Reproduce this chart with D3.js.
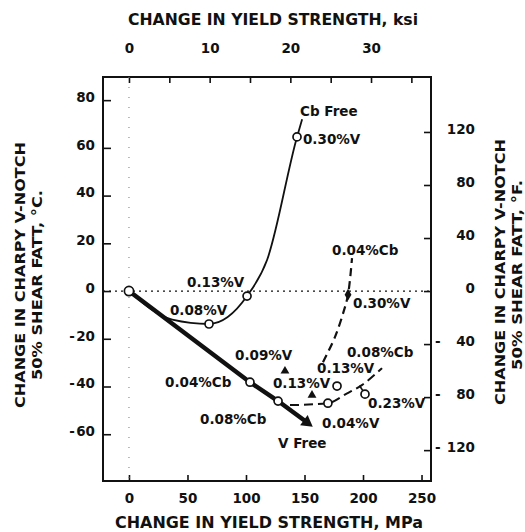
<!DOCTYPE html>
<html>
<head>
<meta charset="utf-8">
<script src="https://cdn.jsdelivr.net/npm/d3@7"></script>
<style>
  body { margin: 0; background: #fff; }
  svg text { font-family: "DejaVu Sans", sans-serif; font-weight: bold; fill: #111; }
</style>
</head>
<body>
<svg id="chart" width="525" height="532"></svg>
<script>
// tick values
const mpaTicks = [0, 50, 100, 150, 200, 250];
const ksiTicks = [0, 5, 10, 15, 20, 25, 30, 35];
const ksiLabels = [0, 10, 20, 30];
const degCTicks = [80, 60, 40, 20, 0, -20, -40, -60];
const degFTicks = [120, 80, 40, 0, -40, -80, -120];

// Cb free (MPa, degC)
const cbFreeCurve = [[0, 0], [37, -12], [68.4, -13.8], [100.9, -2.1], [118, 13], [143.6, 64.6], [148, 72]];
const cbFreePts = [[68.4, -13.8], [100.9, -2.1], [143.6, 64.6]];
// V free
const vFreeLine = [[0, 0], [103.4, -38.2], [127.4, -46.1], [152, -55]];
const vFreePts = [[103.4, -38.2], [127.4, -46.1]];
const vFreeEnd = [152, -55];
// 0.04% Cb + V
const cb04Curve = [[165.8, -29.8], [176, -19.3], [183.8, -8], [187.2, -1.5], [190.6, 13.8]];
const cb04Tri = [[133.3, -33.5], [156.4, -43.6]];
const cb04Diamond = [[187.2, -1.5]];
// 0.08% Cb + V
const cb08Curve = [[137.6, -47.8], [170, -47], [186, -43], [199, -39.4], [216.2, -32.3]];
const cb08Pts = [[170, -47], [177.8, -39.8], [201.7, -43.2]];
const cb08Stub = [[197, -39.6], [201.7, -43.2]];

// annotations: text, MPa, degC (baseline start)
const notes = [
  ["Cb Free", 146.2, 73.4],
  ["0.30%V", 148.7, 61.6],
  ["0.13%V", 49.6, 1.7],
  ["0.08%V", 35, -10.1],
  ["0.09%V", 90.6, -28.9],
  ["0.04%Cb", 30.8, -40.3],
  ["0.08%Cb", 60.7, -55.8],
  ["V Free", 127.4, -65.8],
  ["0.04%V", 165, -57.4],
  ["0.13%V", 123, -40.7],
  ["0.13%V", 160.7, -34.4],
  ["0.08%Cb", 186.3, -27.7],
  ["0.23%V", 204.3, -49.1],
  ["0.04%Cb", 173.5, 15.1],
  ["0.30%V", 191.5, -7.1]
];

const svg = d3.select("#chart");
const L = 103, R = 431, T = 77, B = 481;
const ink = "#111";

const x = d3.scaleLinear().domain([-22.2, 258.1]).range([L, R]);
const y = d3.scaleLinear().domain([-79.6, 89.7]).range([B, T]);
const ksi = d3.scaleLinear().domain(x.domain().map(d => d / 6.8948)).range([L, R]);
const degF = d3.scaleLinear().domain(y.domain().map(d => d * 1.8)).range([B, T]);

const fmtNeg = d => d < 0 ? "-\u200a" + Math.abs(d) : d;

// axes
const gB = svg.append("g").attr("transform", `translate(0,${B})`)
  .call(d3.axisBottom(x).tickValues(mpaTicks).tickSizeInner(-6).tickSizeOuter(0).tickPadding(12));
const gT = svg.append("g").attr("transform", `translate(0,${T})`)
  .call(d3.axisTop(ksi).tickValues(ksiTicks).tickSizeInner(-6).tickSizeOuter(0).tickPadding(24)
    .tickFormat(d => ksiLabels.includes(d) ? d : ""));
const gL = svg.append("g").attr("transform", `translate(${L},0)`)
  .call(d3.axisLeft(y).tickValues(degCTicks).tickSizeInner(-8).tickSizeOuter(0).tickPadding(8).tickFormat(fmtNeg));
const gR = svg.append("g").attr("transform", `translate(${R},0)`)
  .call(d3.axisRight(degF).tickValues(degFTicks).tickSizeInner(-7).tickSizeOuter(0).tickPadding(8)
    .tickFormat(d => Math.abs(d)));

[gB, gT, gL, gR].forEach(g => {
  g.select(".domain").remove();
  g.selectAll("line").attr("stroke", ink).attr("stroke-width", 1.6);
  g.selectAll("text").attr("font-size", 13.5).attr("fill", ink)
    .style("font-family", "'DejaVu Sans', sans-serif").style("font-weight", "bold");
});
gL.selectAll("text").attr("dy", "0.1em");
gR.selectAll("text").attr("text-anchor", "end").attr("x", 44).attr("dy", "0.1em");
gR.selectAll(".tick").filter(d => d < 0).append("text")
  .attr("x", 4).attr("dy", "0.1em").attr("font-size", 13.5).text("-");

// frame
svg.append("rect").attr("x", L).attr("y", T).attr("width", R - L).attr("height", B - T)
  .attr("fill", "none").attr("stroke", ink).attr("stroke-width", 2);

// reference dotted lines
svg.append("line").attr("x1", L).attr("x2", R).attr("y1", y(0)).attr("y2", y(0))
  .attr("stroke", ink).attr("stroke-width", 1.2).attr("stroke-dasharray", "2,4");
svg.append("line").attr("x1", x(0)).attr("x2", x(0)).attr("y1", T).attr("y2", B)
  .attr("stroke", "#777").attr("stroke-width", 1).attr("stroke-dasharray", "1,9");

const line = d3.line().x(d => x(d[0])).y(d => y(d[1]));

svg.append("path").datum(vFreeLine).attr("d", line)
  .attr("fill", "none").attr("stroke", ink).attr("stroke-width", 4.5).attr("stroke-linecap", "round");
svg.append("path").datum(cbFreeCurve).attr("d", line.curve(d3.curveMonotoneX))
  .attr("fill", "none").attr("stroke", ink).attr("stroke-width", 1.8);
svg.append("path").datum(cb04Curve).attr("d", line.curve(d3.curveCatmullRom))
  .attr("fill", "none").attr("stroke", ink).attr("stroke-width", 2.2).attr("stroke-dasharray", "8,5");
svg.append("path").datum(cb08Curve).attr("d", line.curve(d3.curveMonotoneX))
  .attr("fill", "none").attr("stroke", ink).attr("stroke-width", 2).attr("stroke-dasharray", "9,5");
svg.append("path").datum(cb08Stub).attr("d", line.curve(d3.curveLinear))
  .attr("fill", "none").attr("stroke", ink).attr("stroke-width", 1.6);

// markers
const circles = [[0, 0]].concat(cbFreePts, vFreePts, cb08Pts);
svg.selectAll("circle.pt").data(circles).join("circle").attr("class", "pt")
  .attr("cx", d => x(d[0])).attr("cy", d => y(d[1])).attr("r", (d, i) => i === 0 ? 4.6 : 4)
  .attr("fill", "#fff").attr("stroke", ink).attr("stroke-width", 1.7);

svg.selectAll("path.tri").data(cb04Tri).join("path").attr("class", "tri")
  .attr("d", d3.symbol(d3.symbolTriangle, 34))
  .attr("transform", d => `translate(${x(d[0])},${y(d[1])})`).attr("fill", ink);
svg.selectAll("path.dia").data(cb04Diamond).join("path").attr("class", "dia")
  .attr("d", d3.symbol(d3.symbolDiamond, 40))
  .attr("transform", d => `translate(${x(d[0])},${y(d[1])})`).attr("fill", ink);

// arrow-like end of the V free line
const prev = vFreeLine[vFreeLine.length - 2];
const ang = Math.atan2(y(vFreeEnd[1]) - y(prev[1]), x(vFreeEnd[0]) - x(prev[0])) * 180 / Math.PI;
svg.append("path").attr("d", d3.symbol(d3.symbolTriangle, 70))
  .attr("transform", `translate(${x(vFreeEnd[0])},${y(vFreeEnd[1])}) rotate(${ang + 90})`).attr("fill", ink);

// annotations
svg.selectAll("text.note").data(notes).join("text").attr("class", "note")
  .attr("x", d => x(d[1])).attr("y", d => y(d[2])).attr("font-size", 13.5).text(d => d[0]);

// titles
svg.append("text").attr("x", 273).attr("y", 25).attr("text-anchor", "middle")
  .attr("font-size", 15).attr("textLength", 290).attr("lengthAdjust", "spacingAndGlyphs")
  .text("CHANGE IN YIELD STRENGTH, ksi");
svg.append("text").attr("x", 269).attr("y", 528).attr("text-anchor", "middle")
  .attr("font-size", 15).attr("textLength", 308).attr("lengthAdjust", "spacingAndGlyphs")
  .text("CHANGE IN YIELD STRENGTH, MPa");

const vTitle = (cx, cy, txt, len) => svg.append("text")
  .attr("transform", `translate(${cx},${cy}) rotate(-90)`).attr("text-anchor", "middle")
  .attr("dy", "0.36em").attr("font-size", 14.5)
  .attr("textLength", len).attr("lengthAdjust", "spacingAndGlyphs").text(txt);
vTitle(20, 275, "CHANGE IN CHARPY V-NOTCH", 266);
vTitle(37, 285, "50% SHEAR FATT, °C.", 190);
vTitle(500, 272, "CHANGE IN CHARPY V-NOTCH", 266);
vTitle(517, 275, "50% SHEAR FATT, °F.", 190);
</script>
</body>
</html>
